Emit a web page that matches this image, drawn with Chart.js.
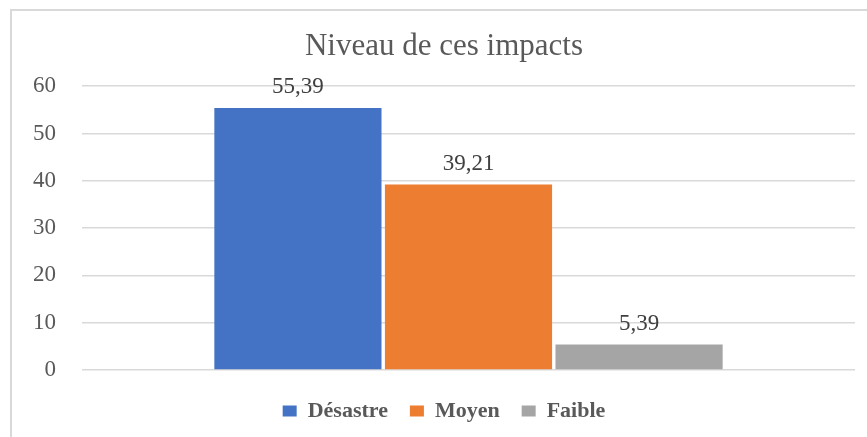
<!DOCTYPE html>
<html>
<head>
<meta charset="utf-8">
<script src="https://cdn.jsdelivr.net/npm/chart.js@4"></script>
<style>
  body { margin: 0; background: #fff; }
  #frame { position: absolute; left: 10px; top: 9px; width: 870px; height: 440px; border: 2px solid #d9d9d9; box-sizing: border-box; }
  #wrap { position: absolute; left: 0; top: 0; width: 867px; height: 437px; }
</style>
</head>
<body>
<div id="frame"></div>
<div id="wrap"><canvas id="barchart" width="867" height="437"></canvas></div>
<script>
// données du graphique
const categories = [''];
const seriesNames = ['Désastre', 'Moyen', 'Faible'];
const seriesValues = [[55.39], [39.21], [5.39]];
const seriesColors = ['#4472C4', '#ED7D31', '#A5A5A5'];
const yTicks = [0, 10, 20, 30, 40, 50, 60];

const serif = "'Liberation Serif', 'Times New Roman', serif";

// étiquettes de valeur au-dessus des barres
const valueLabels = {
    id: 'valueLabels',
    afterDatasetsDraw(chart) {
        const c = chart.ctx;
        c.save();
        c.font = '23px ' + serif;
        c.fillStyle = '#404040';
        c.textAlign = 'center';
        c.textBaseline = 'alphabetic';
        chart.data.datasets.forEach((ds, i) => {
            chart.getDatasetMeta(i).data.forEach((bar, j) => {
                const txt = ds.data[j].toFixed(2).replace('.', ',');
                c.fillText(txt, bar.x, bar.y - 15);
            });
        });
        c.restore();
    }
};

const ctx = document.getElementById('barchart').getContext('2d');
const barchart = new Chart(ctx, {
    type: 'bar',
    data: {
        labels: categories,
        datasets: seriesNames.map((name, i) => ({
            label: name,
            data: seriesValues[i],
            backgroundColor: seriesColors[i],
            categoryPercentage: 0.662,
            barPercentage: 0.98
        }))
    },
    options: {
        responsive: false,
        animation: false,
        layout: { padding: { left: 33, right: 12, top: 10, bottom: 5 } },
        plugins: {
            title: {
                display: true,
                text: 'Niveau de ces impacts',
                color: '#595959',
                font: { family: serif, size: 31, weight: 'normal' },
                padding: { top: 18, bottom: 21 }
            },
            legend: {
                position: 'bottom',
                labels: {
                    color: '#595959',
                    font: { family: serif, size: 22, weight: 'bold' },
                    boxWidth: 14,
                    boxHeight: 11,
                    padding: 22
                }
            },
            tooltip: { enabled: false }
        },
        scales: {
            x: {
                grid: { display: false },
                border: { display: false },
                ticks: { display: false }
            },
            y: {
                min: 0,
                max: 60,
                afterBuildTicks: scale => { scale.ticks = yTicks.map(v => ({ value: v })); },
                afterFit: scale => { scale.width = 49; },
                grid: { color: '#d9d9d9', lineWidth: 1.5, drawTicks: false },
                border: { display: false },
                ticks: {
                    color: '#595959',
                    font: { family: serif, size: 23 },
                    padding: 26
                }
            }
        }
    },
    plugins: [valueLabels]
});
</script>
</body>
</html>
